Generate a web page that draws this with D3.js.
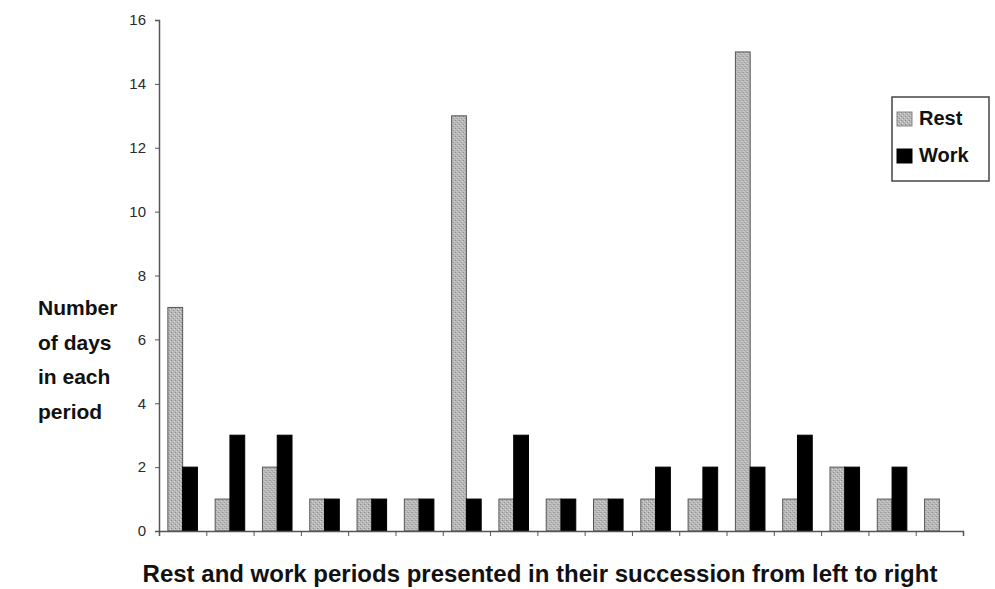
<!DOCTYPE html>
<html>
<head>
<meta charset="utf-8">
<script src="https://cdn.jsdelivr.net/npm/d3@7"></script>
<style>
  body { margin: 0; background: #fff; }
  text { font-family: "Liberation Sans", Arial, sans-serif; }
</style>
</head>
<body>
<div id="chart"></div>
<script>
const periods = ['1','2','3','4','5','6','7','8','9','10','11','12','13','14','15','16','17'];
const series = ['Rest', 'Work'];
const restDays = [7, 1, 2, 1, 1, 1, 13, 1, 1, 1, 1, 1, 15, 1, 2, 1, 1];
const workDays = [2, 3, 3, 1, 1, 1, 1, 3, 1, 1, 2, 2, 2, 3, 2, 2, null];
const yTicks = [0, 2, 4, 6, 8, 10, 12, 14, 16];
const yLabelLines = ['Number', 'of days', 'in each', 'period'];

const width = 995, height = 589;
const plotLeft = 159, plotRight = 963, plotTop = 20, plotBottom = 531;

const svg = d3.select('#chart').append('svg')
  .attr('width', width)
  .attr('height', height);

// stippled grey fill for the rest bars
const defs = svg.append('defs');
const pat = defs.append('pattern')
  .attr('id', 'stipple')
  .attr('width', 4).attr('height', 4)
  .attr('patternUnits', 'userSpaceOnUse');
pat.append('rect').attr('width', 4).attr('height', 4).attr('fill', '#b8b8b8');
pat.append('rect').attr('x', 0).attr('y', 0).attr('width', 1).attr('height', 1).attr('fill', '#858585');
pat.append('rect').attr('x', 2).attr('y', 2).attr('width', 1).attr('height', 1).attr('fill', '#959595');
pat.append('rect').attr('x', 3).attr('y', 1).attr('width', 1).attr('height', 1).attr('fill', '#dddddd');
pat.append('rect').attr('x', 1).attr('y', 3).attr('width', 1).attr('height', 1).attr('fill', '#d5d5d5');

const x0 = d3.scaleBand()
  .domain(periods)
  .range([plotLeft, plotRight])
  .paddingInner(0);

const x1 = d3.scaleBand()
  .domain(series)
  .range([0, x0.bandwidth()])
  .paddingInner(0)
  .paddingOuter(0.6);

const xTickScale = d3.scaleLinear()
  .domain([0, periods.length])
  .range([plotLeft, plotRight]);

const y = d3.scaleLinear()
  .domain([0, 16])
  .range([plotBottom, plotTop]);

const data = periods.map((p, i) => ({ period: p, Rest: restDays[i], Work: workDays[i] }));

// bars
const groups = svg.append('g').attr('class', 'bars')
  .selectAll('g')
  .data(data).enter()
  .append('g')
  .attr('transform', d => `translate(${x0(d.period)},0)`);

groups.selectAll('rect')
  .data(d => series.map(s => ({ key: s, value: d[s] })).filter(v => v.value != null))
  .enter()
  .append('rect')
  .attr('x', d => x1(d.key))
  .attr('y', d => y(d.value))
  .attr('width', x1.bandwidth())
  .attr('height', d => y(0) - y(d.value))
  .attr('fill', d => d.key === 'Rest' ? 'url(#stipple)' : '#000')
  .attr('stroke', d => d.key === 'Rest' ? '#555' : '#000')
  .attr('stroke-width', 1);

// y axis
const yAxis = svg.append('g')
  .attr('class', 'y axis')
  .attr('transform', `translate(${plotLeft},0)`)
  .call(d3.axisLeft(y).tickValues(yTicks).tickSize(4).tickPadding(9));
yAxis.select('.domain').attr('stroke', '#555').attr('stroke-width', 1.5);
yAxis.selectAll('.tick line').attr('stroke', '#555');
yAxis.selectAll('.tick text')
  .attr('fill', '#2a2a2a')
  .style('font-size', '15px')
  .style('font-family', '"Liberation Sans", Arial, sans-serif');

// x axis
const xAxis = svg.append('g')
  .attr('class', 'x axis')
  .attr('transform', `translate(0,${plotBottom})`)
  .call(d3.axisBottom(xTickScale).ticks(periods.length).tickSizeOuter(0).tickSize(5).tickFormat(''));
xAxis.select('.domain').attr('stroke', '#555').attr('stroke-width', 1.5);
xAxis.selectAll('.tick line').attr('stroke', '#555');
xAxis.selectAll('.tick').filter(d => d === 0).remove();

// y label
svg.append('g')
  .selectAll('text')
  .data(yLabelLines).enter()
  .append('text')
  .attr('x', 38)
  .attr('y', (d, i) => 315 + i * 34.5)
  .attr('font-size', 21)
  .attr('font-weight', 'bold')
  .attr('fill', '#111')
  .text(d => d);

// x title
svg.append('text')
  .attr('x', 540)
  .attr('y', 582)
  .attr('text-anchor', 'middle')
  .attr('font-size', 24)
  .attr('font-weight', 'bold')
  .attr('fill', '#111')
  .text('Rest and work periods presented in their succession from left to right');

// legend
const legend = svg.append('g').attr('transform', 'translate(892,97)');
legend.append('rect')
  .attr('width', 97).attr('height', 84)
  .attr('fill', '#fff')
  .attr('stroke', '#444')
  .attr('stroke-width', 1.5);
const items = legend.selectAll('.item')
  .data(series).enter()
  .append('g')
  .attr('transform', (d, i) => `translate(5,${15 + i * 37})`);
items.append('rect')
  .attr('width', 15).attr('height', 14)
  .attr('fill', d => d === 'Rest' ? 'url(#stipple)' : '#000')
  .attr('stroke', d => d === 'Rest' ? '#888' : '#000');
items.append('text')
  .attr('x', 22)
  .attr('y', 13)
  .attr('font-size', 20)
  .attr('font-weight', 'bold')
  .attr('fill', '#111')
  .text(d => d);
</script>
</body>
</html>
